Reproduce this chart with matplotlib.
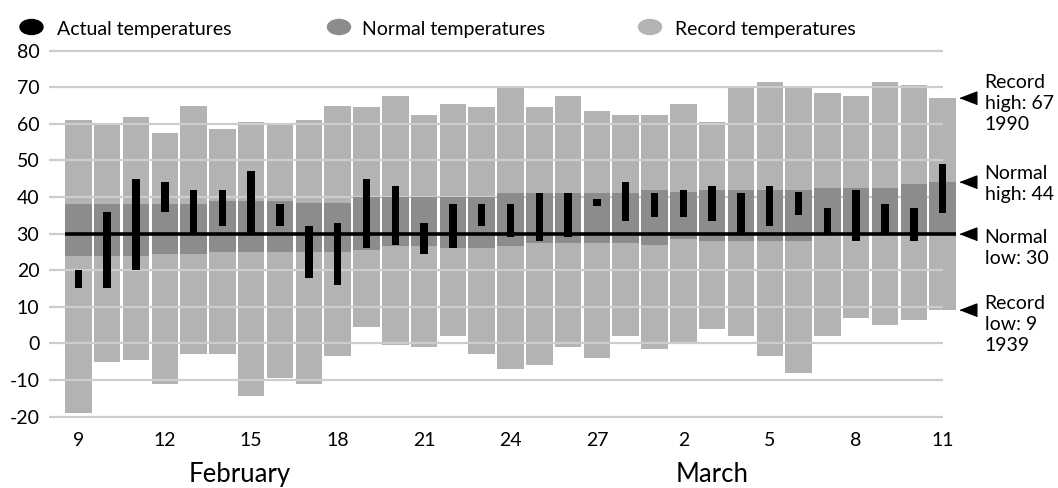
import numpy as np
import matplotlib.pyplot as plt
import matplotlib.transforms as mtransforms
from matplotlib.patches import Ellipse

plt.rcParams['font.family'] = ['Lato', 'DejaVu Sans']

# Dager: 9. februar - 11. mars
days = list(range(9, 29)) + list(range(1, 12))
months = ['February', 'March']

record_high = [61, 60, 62, 57.5, 65, 58.5, 60.5, 60, 61, 65, 64.5, 67.5, 62.5, 65.5, 64.5, 70,
               64.5, 67.5, 63.5, 62.5, 62.5, 65.5, 60.5, 70, 71.5, 70, 68.5, 67.5, 71.5, 70.5, 67]
record_low = [-19, -5, -4.5, -11, -3, -3, -14.5, -9.5, -11, -3.5, 4.5, -0.5, -1, 2, -3, -7,
              -6, -1, -4, 2, -1.5, 0, 4, 2, -3.5, -8, 2, 7, 5, 6.5, 9]
normal_high = [38, 38, 38, 38, 38, 39, 39, 39, 38.5, 38.5, 40, 40, 40, 40, 40, 41,
               41, 41, 41, 41, 42, 41.5, 42, 42, 42, 42, 42.5, 42.5, 42.5, 43.5, 44]
normal_low = [24, 24, 24, 24.5, 24.5, 25, 25, 25, 25, 25, 25.5, 26.5, 26.5, 26, 26, 26.5,
              27.5, 27.5, 27.5, 27.5, 27, 28.5, 28, 28, 28, 28, 30, 30, 30, 30, 30]
actual_high = [20, 36, 45, 44, 42, 42, 47, 38, 32, 33, 45, 43, 33, 38, 38, 38,
               41, 41, 39.5, 44, 41, 42, 43, 41, 43, 41.5, 37, 42, 38, 37, 49]
actual_low = [15, 15, 20, 36, 30, 32, 30, 32, 18, 16, 26, 27, 24.5, 26, 32, 29,
              28, 29, 37.5, 33.5, 34.5, 34.5, 33.5, 30, 32, 35, 30, 28, 30, 28, 35.5]
record_high_year = 1990
record_low_year = 1939

yticks = list(range(-20, 90, 10))

x = np.arange(len(days))
rh = np.array(record_high)
rl = np.array(record_low)
nh = np.array(normal_high)
nl = np.array(normal_low)
ah = np.array(actual_high)
al = np.array(actual_low)

light = '#b3b3b3'
mid = '#8c8c8c'

fig = plt.figure(figsize=(10.58, 4.88), dpi=100)
ax = fig.add_axes([49 / 1058, 0.1465, 908 / 1058, 0.7496])
ax.set_xlim(-1.02, 30.5)
ax.set_ylim(-20, 80)

ax.bar(x, rh - rl, bottom=rl, width=0.92, color=light, zorder=1)
ax.hlines(yticks, -1.02, 30, colors='#cdcdcd', lw=1.6, zorder=2, clip_on=False)
ax.bar(x, nh - nl, bottom=nl, width=0.92, color=mid, zorder=3)
ax.hlines(normal_low[-1], -0.46, len(days) - 0.54, colors='black', lw=2.6, zorder=4)
ax.bar(x, ah - al, bottom=al, width=0.26, color='black', zorder=5)

for s in ax.spines.values():
    s.set_visible(False)
ax.set_yticks(yticks)
ax.set_yticklabels([str(v) for v in yticks], fontsize=14)
ax.set_xticks(x[::3])
ax.set_xticklabels([str(d) for d in days[::3]], fontsize=14)
ax.tick_params(axis='y', length=0, pad=7)
ax.tick_params(axis='x', length=0, pad=11)

# Maaneder
trans = mtransforms.blended_transform_factory(ax.transData, fig.transFigure)
ax.text(5.6, 1 - 482 / 488, months[0], fontsize=18.5, ha='center', va='baseline', transform=trans)
ax.text(22.0, 1 - 482 / 488, months[1], fontsize=18.5, ha='center', va='baseline', transform=trans)

# Merkelapper til hoyre
tri = [(-1, 0), (1, 0.77), (1, -0.77)]
notes = [
    (record_high[-1], f'Record\nhigh: {record_high[-1]}\n{record_high_year}', -3.6),
    (normal_high[-1], f'Normal\nhigh: {normal_high[-1]}', -1.4),
    (normal_low[-1], f'Normal\nlow: {normal_low[-1]}', -10.6),
    (record_low[-1], f'Record\nlow: {record_low[-1]}\n{record_low_year}', -10),
]
for val, txt, dy in notes:
    ax.plot(30.88, val, marker=tri, markersize=12, color='black', clip_on=False, zorder=6)
    ax.annotate(txt, xy=(30.88, val), xytext=(12, dy), textcoords='offset points',
                fontsize=14, ha='left', va='center', linespacing=1.28, annotation_clip=False)

# Forklaring
legend_items = [('Actual temperatures', 'black', 31.5, 57),
                ('Normal temperatures', mid, 339, 362),
                ('Record temperatures', light, 650, 675)]
for label, col, ex, tx in legend_items:
    fig.add_artist(Ellipse((ex / 1058, 1 - 27 / 488), 23 / 1058, 15 / 488,
                           color=col, transform=fig.transFigure))
    fig.text(tx / 1058, 1 - 35 / 488, label, fontsize=14, ha='left', va='baseline')

fig.savefig('out.png', dpi=100)
